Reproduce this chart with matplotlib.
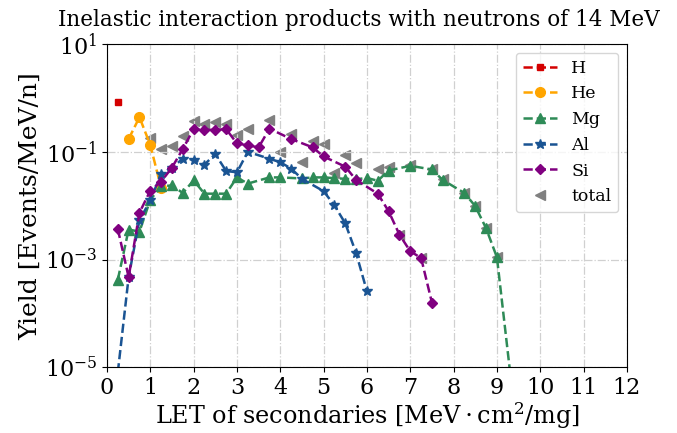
import matplotlib
matplotlib.use("Agg")
import matplotlib.pyplot as plt
from matplotlib.ticker import NullLocator

# LET bins [MeV cm2/mg] and yields [Events/MeV/n] per secondary species
h_let = [0.25]
h_yield = [0.85]

he_let = [0.5, 0.75, 1.0, 1.25]
he_yield = [0.173, 0.44, 0.134, 0.0213]

mg_let = [0.25, 0.5, 0.75, 1.0, 1.25, 1.5, 1.75, 2.0, 2.25, 2.5, 2.75, 3.0, 3.25,
          3.75, 4.0, 4.5, 4.75, 5.0, 5.25, 5.5, 5.75, 6.0, 6.25, 6.5, 7.0, 7.5,
          7.75, 8.25, 8.5, 8.75, 9.0, 9.5]
mg_yield = [4.2e-4, 3.6e-3, 3.3e-3, 0.0129, 0.0228, 0.0238, 0.0172, 0.0295,
            0.0167, 0.0167, 0.0167, 0.0335, 0.0257, 0.0335, 0.0335, 0.032,
            0.0335, 0.0335, 0.0325, 0.0315, 0.031, 0.0327, 0.029, 0.045, 0.055,
            0.047, 0.030, 0.0172, 0.0098, 3.8e-3, 1.1e-3, 3.4e-7]

al_let = [0.25, 0.5, 0.75, 1.0, 1.25, 1.5, 1.75, 2.0, 2.25, 2.5, 2.75, 3.0, 3.25,
          3.75, 4.0, 4.25, 4.5, 5.0, 5.25, 5.5, 5.75, 6.0]
al_yield = [8e-6, 4.7e-4, 5.4e-3, 0.0125, 0.039, 0.051, 0.0745, 0.072, 0.058,
            0.091, 0.044, 0.0417, 0.1, 0.0745, 0.064, 0.049, 0.0315, 0.0186,
            0.0101, 4.7e-3, 1.32e-3, 2.57e-4]

si_let = [0.25, 0.5, 0.75, 1.0, 1.25, 1.5, 1.75, 2.0, 2.25, 2.5, 2.75, 3.0, 3.25,
          3.5, 3.75, 4.25, 4.75, 5.0, 5.5, 5.75, 6.25, 6.5, 6.75, 7.0, 7.25, 7.5]
si_yield = [3.7e-3, 4.7e-4, 7.4e-3, 0.019, 0.028, 0.051, 0.113, 0.265, 0.257,
            0.255, 0.265, 0.143, 0.132, 0.121, 0.27, 0.173, 0.121, 0.082, 0.053,
            0.030, 0.0167, 7.9e-3, 2.9e-3, 1.42e-3, 1.07e-3, 1.58e-4]

total_let = [1.0, 1.25, 1.5, 1.75, 2.0, 2.25, 2.5, 2.75, 3.0, 3.25, 3.75, 4.0,
             4.25, 4.5, 4.75, 5.0, 5.25, 5.5, 5.75, 6.25, 6.5, 6.75, 7.0, 7.25,
             7.5, 7.75, 8.25, 8.5, 8.75, 9.0]
total_yield = [0.177, 0.113, 0.128, 0.2, 0.378, 0.336, 0.357, 0.328, 0.205,
               0.265, 0.394, 0.098, 0.214, 0.064, 0.16, 0.14, 0.041, 0.089,
               0.062, 0.048, 0.053, 2.9e-3, 0.058, 1.07e-3, 0.048, 0.031,
               0.0172, 0.0098, 3.8e-3, 1.1e-3]

plt.rcParams["font.family"] = "DejaVu Serif"
plt.rcParams["mathtext.fontset"] = "dejavuserif"

fig = plt.figure(figsize=(6.77, 4.33), dpi=100)
ax = fig.add_axes([0.158, 0.152, 0.768, 0.746])

ax.plot(h_let, h_yield, "--s", color="#d40000", ms=5, lw=1.8, label="H")
ax.plot(he_let, he_yield, "--o", color="#ffa500", ms=7, lw=1.8, label="He")
ax.plot(mg_let, mg_yield, "--^", color="#2e8b57", ms=7, lw=1.8, label="Mg")
ax.plot(al_let, al_yield, "--*", color="#1a5493", ms=7, lw=1.8, label="Al")
ax.plot(si_let, si_yield, "--D", color="#800080", ms=5, lw=1.8, label="Si")
ax.plot(total_let, total_yield, "<", color="#808080", ms=7, ls="none",
        label="total", zorder=1.5)

ax.set_yscale("log")
ax.set_xlim(0, 12)
ax.set_ylim(1e-5, 10)
ax.set_xticks(range(0, 13))
ax.set_yticks([1e-5, 1e-3, 1e-1, 1e1])
ax.yaxis.set_minor_locator(NullLocator())
ax.tick_params(labelsize=16)
ax.grid(True, ls="-.", color="#d0d0d0", lw=0.9)

ax.set_title("Inelastic interaction products with neutrons of 14 MeV",
             fontsize=15.5, x=0.485, pad=13)
ax.set_xlabel(r"LET of secondaries [$\mathrm{MeV \cdot cm^2/mg}$]", fontsize=17.2,
              labelpad=1)
ax.set_ylabel("Yield [Events/MeV/n]", fontsize=18, labelpad=2)
ax.legend(loc="upper right", fontsize=12.5)

fig.savefig("out.png", dpi=100)
plt.close(fig)
